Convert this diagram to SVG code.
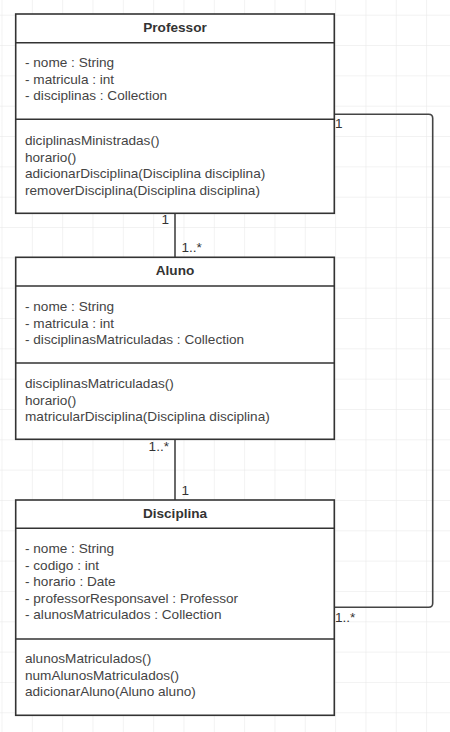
<svg xmlns="http://www.w3.org/2000/svg" width="450" height="732" viewBox="0 0 450 732">
<style>
  .box { fill: #ffffff; stroke: #333333; stroke-width: 1.6; }
  .div { stroke: #333333; stroke-width: 1.6; fill: none; }
  .hdr { font-family: "Liberation Sans", Arial, sans-serif; font-size: 13.6px; font-weight: bold; fill: #333333; text-anchor: middle; }
  .txt { font-family: "Liberation Sans", Arial, sans-serif; font-size: 13.6px; fill: #444444; }
  .lbl { font-family: "Liberation Sans", Arial, sans-serif; font-size: 13.6px; fill: #333333; }
  .conn { stroke: #444444; stroke-width: 1.6; fill: none; }
</style>
<defs>
  <pattern id="grid" x="1.5" y="14.7" width="30.33" height="30.33" patternUnits="userSpaceOnUse">
    <path d="M0 0 H30.33 M0 0 V30.33" stroke="#e6e6e6" stroke-width="1" fill="none"/>
  </pattern>
</defs>
<rect width="450" height="732" fill="#ffffff"/>
<rect width="450" height="732" fill="url(#grid)"/>

<g id="connectors">
  <path class="conn" d="M175 213.3 V257.3"/>
  <path class="conn" d="M175 439.3 V500"/>
  <path class="conn" d="M334.3 114.3 H428.7 Q432.7 114.3 432.7 118.3 V603.3 Q432.7 607.3 428.7 607.3 H334.3"/>
  <text class="lbl" x="169" y="224" text-anchor="end">1</text>
  <text class="lbl" x="181.5" y="251.5">1..*</text>
  <text class="lbl" x="169" y="451" text-anchor="end">1..*</text>
  <text class="lbl" x="181.5" y="495">1</text>
  <text class="lbl" x="335" y="127.5">1</text>
  <text class="lbl" x="335" y="621.5">1..*</text>
</g>

<g id="professor">
  <rect class="box" x="15.7" y="14" width="318.6" height="199.3"/>
  <path class="div" d="M15.7 42.7 H334.3 M15.7 119.3 H334.3"/>
  <text class="hdr" x="175" y="31.5">Professor</text>
  <text class="txt" x="25" y="67">- nome : String</text>
  <text class="txt" x="25" y="83.5">- matricula : int</text>
  <text class="txt" x="25" y="100">- disciplinas : Collection</text>
  <text class="txt" x="25" y="145">diciplinasMinistradas()</text>
  <text class="txt" x="25" y="161.5">horario()</text>
  <text class="txt" x="25" y="178">adicionarDisciplina(Disciplina disciplina)</text>
  <text class="txt" x="25" y="194.5">removerDisciplina(Disciplina disciplina)</text>
</g>

<g id="aluno">
  <rect class="box" x="15.7" y="257.3" width="318.6" height="182"/>
  <path class="div" d="M15.7 286 H334.3 M15.7 363 H334.3"/>
  <text class="hdr" x="175" y="274.5">Aluno</text>
  <text class="txt" x="25" y="311">- nome : String</text>
  <text class="txt" x="25" y="327.5">- matricula : int</text>
  <text class="txt" x="25" y="344">- disciplinasMatriculadas : Collection</text>
  <text class="txt" x="25" y="388.3">disciplinasMatriculadas()</text>
  <text class="txt" x="25" y="404.8">horario()</text>
  <text class="txt" x="25" y="421.3">matricularDisciplina(Disciplina disciplina)</text>
</g>

<g id="disciplina">
  <rect class="box" x="15.7" y="500" width="318.6" height="215.3"/>
  <path class="div" d="M15.7 528.3 H334.3 M15.7 639 H334.3"/>
  <text class="hdr" x="175" y="517.5">Disciplina</text>
  <text class="txt" x="25" y="553.3">- nome : String</text>
  <text class="txt" x="25" y="569.8">- codigo : int</text>
  <text class="txt" x="25" y="586.3">- horario : Date</text>
  <text class="txt" x="25" y="602.8">- professorResponsavel : Professor</text>
  <text class="txt" x="25" y="619.3">- alunosMatriculados : Collection</text>
  <text class="txt" x="25" y="663.3">alunosMatriculados()</text>
  <text class="txt" x="25" y="679.8">numAlunosMatriculados()</text>
  <text class="txt" x="25" y="696.3">adicionarAluno(Aluno aluno)</text>
</g>
</svg>
